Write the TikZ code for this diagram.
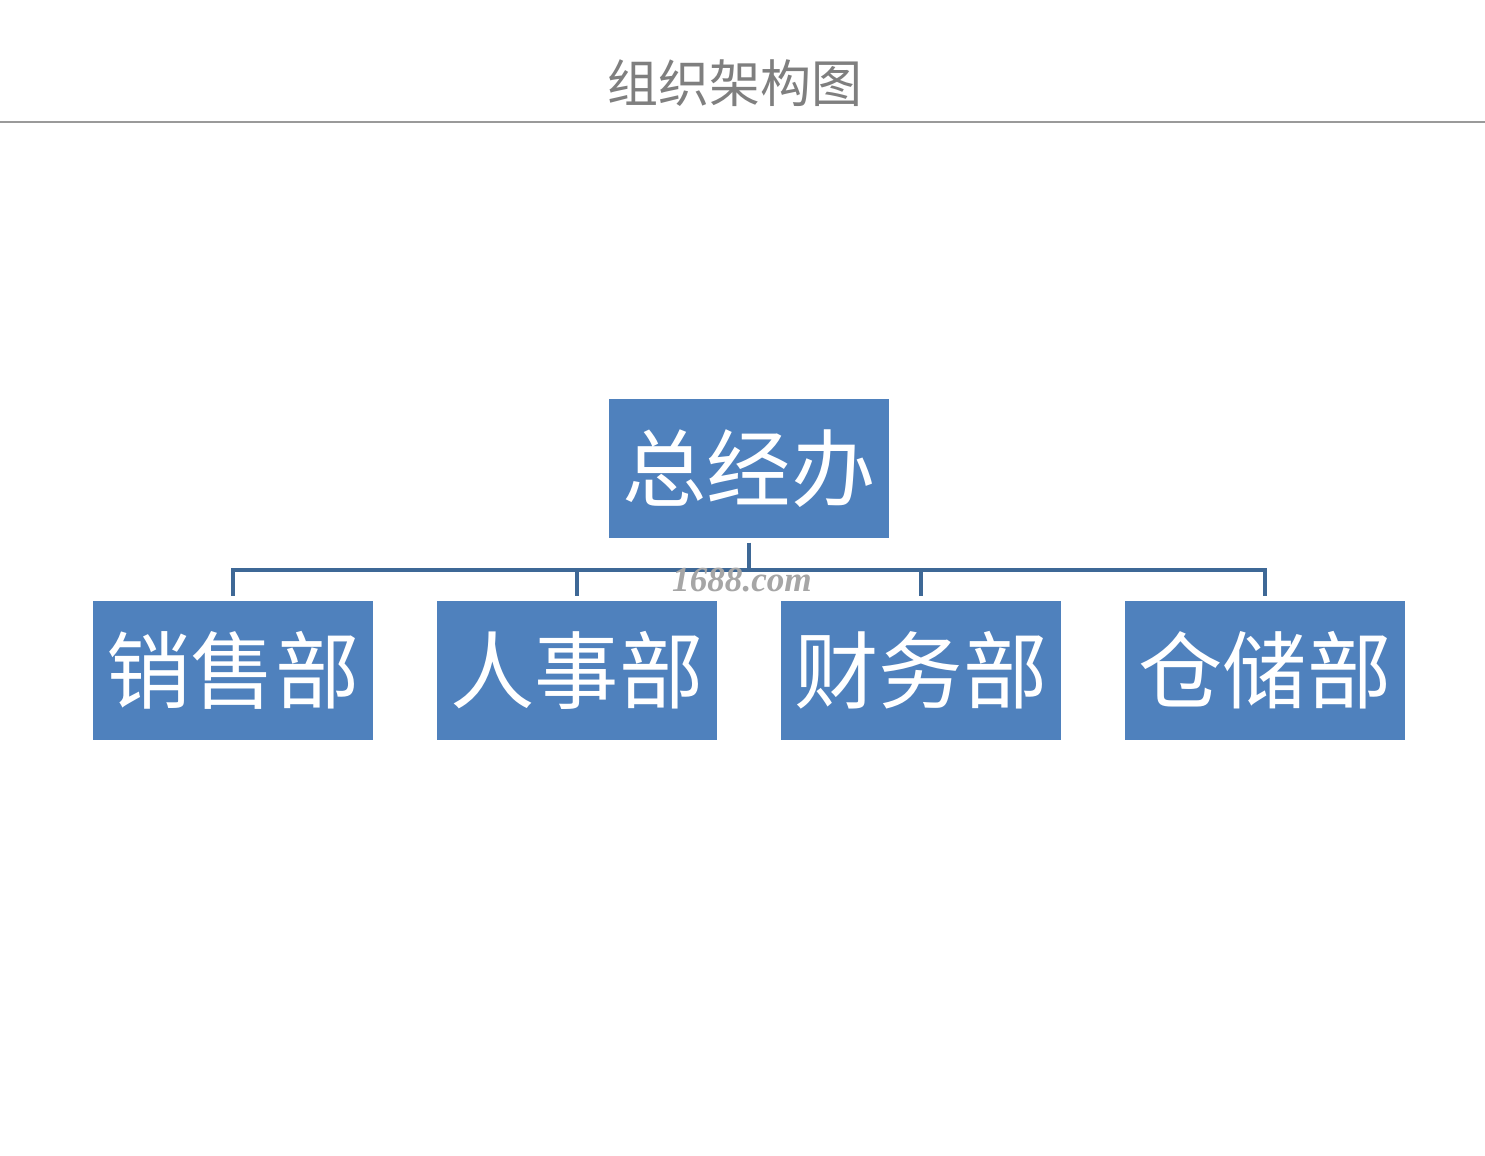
\documentclass[tikz,border=0pt]{standalone}
\usepackage{fontspec}
\newfontfamily\cjk{Noto Sans CJK SC}
\newfontfamily\wmfont{Liberation Serif}
\usetikzlibrary{positioning}
\definecolor{orgBox}{HTML}{4f81bd}
\definecolor{orgLine}{HTML}{3e6896}
\definecolor{orgTitle}{HTML}{7f7f7f}
\definecolor{orgRule}{HTML}{9a9a9a}
\tikzset{
  unit/.style={fill=orgBox, minimum width=2.8cm, minimum height=1.39cm,
              inner sep=0pt, text=white, font=\cjk\fontsize{24}{24}\selectfont},
  link/.style={draw=orgLine, line width=1.1pt, shorten <=0.04cm, shorten >=0.04cm},
  ttl/.style={text=orgTitle, font=\cjk\fontsize{14.5}{15}\selectfont},
  wm/.style={text=gray!70, font=\wmfont\bfseries\itshape\fontsize{10}{10}\selectfont},
}
\begin{document}
\begin{tikzpicture}
  \useasboundingbox[fill=white] (0,0) rectangle (14.85,-11.55);
  % heading
  \node[ttl] (title) at (7.35,-0.83) {组织架构图};
  \coordinate (ruleL) at (0,-1.22);
  \coordinate (ruleR) at (14.85,-1.22);
  \draw[orgRule, line width=0.6pt] (ruleL) -- (ruleR);
  % boxes
  \node[unit] (gm) at (7.49,-4.685) {总经办};
  \foreach \d/\x/\t in {sales/2.33/销售部,hr/5.77/人事部,fin/9.21/财务部,store/12.65/仓储部}{
    \node[unit] (\d) at (\x,-6.705) {\t};
  }
  % connectors
  \coordinate (bus) at (7.49,-5.70);
  \draw[link, shorten >=0pt] (gm.south) -- (bus);
  \foreach \d in {sales,hr,fin,store}{
    \draw[link, shorten <=0pt] (bus) -| (\d.north);
  }
  \node[wm] (mark) at (7.42,-5.80) {1688.com};
\end{tikzpicture}
\end{document}
